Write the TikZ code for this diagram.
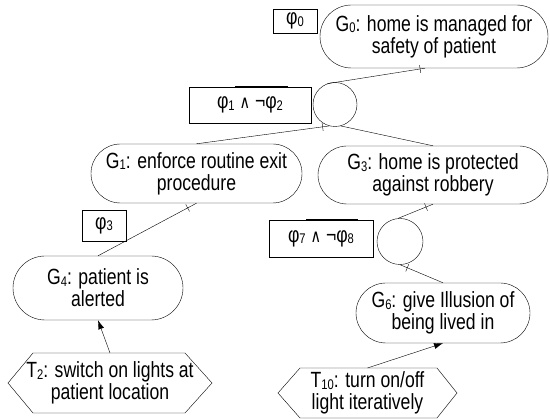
\documentclass[tikz,border=0pt]{standalone}
\usepackage{fontspec}
\setmainfont{Liberation Sans}[FakeStretch=0.8]
\newfontfamily\symfont{DejaVu Sans}[FakeStretch=0.8]
\usetikzlibrary{shapes.misc,arrows.meta,decorations.markings,calc}
\newcommand\sbs[1]{\raisebox{-1.5pt}{\fontsize{14}{14}\selectfont #1}}
\begin{document}
\begin{tikzpicture}[x=1pt,y=-1pt,
  every node/.style={font=\fontsize{22}{22}\selectfont, inner sep=0pt},
  goal/.style={draw, rounded rectangle, align=center},
  cond/.style={draw, rectangle},
  refnode/.style={draw, circle, minimum size=44pt},
  task/.style={align=center},
  tickat/.style={postaction={decorate, decoration={markings, mark=at position #1 with {\draw (0,-4pt) -- (0,4pt);}}}},
  arr/.style={-{Latex[length=9pt,width=6pt]}},
  bar/.style={line width=1.6pt}]
\path[fill=white] (0,0) rectangle (550,419);
% nodes
\node[goal, minimum width=228pt, minimum height=63pt] (G0) at (434,36.5) {G\sbs{0}: home is managed for\\safety of patient};
\node[cond, minimum width=44pt, minimum height=24pt] (p0) at (295,21) {φ\sbs{0}};
\node[refnode] (c1) at (335,104.5) {};
\node[cond, minimum width=122pt, minimum height=36pt] (p1) at (250,105) {φ\sbs{1} {\symfont\fontsize{18}{18}\selectfont ∧} ¬φ\sbs{2}};
\node[goal, minimum width=211pt, minimum height=59pt] (G1) at (196.5,173.5) {G\sbs{1}: enforce routine exit\\procedure};
\node[goal, minimum width=230pt, minimum height=58pt] (G3) at (433,175) {G\sbs{3}: home is protected\\against robbery};
\node[cond, minimum width=44pt, minimum height=31pt] (p3) at (104,225.5) {φ\sbs{3}};
\node[cond, minimum width=104pt, minimum height=37pt] (p7) at (321,238.5) {φ\sbs{7} {\symfont\fontsize{18}{18}\selectfont ∧} ¬φ\sbs{8}};
\node[refnode, minimum size=46pt] (c2) at (400,241.5) {};
\node[goal, minimum width=170pt, minimum height=64pt] (G4) at (98,288) {G\sbs{4}: patient is\\alerted};
\node[goal, minimum width=174pt, minimum height=60pt] (G6) at (443,313) {G\sbs{6}: give Illusion of\\being lived in};
\node[task] (T2) at (110,383) {T\sbs{2}: switch on lights at\\patient location};
\node[task] (T10) at (367.5,393) {T\sbs{10}: turn on/off\\light iteratively};
% hexagons
\draw ($(T2)+(-102,0)$) -- ($(T2)+(-77,-30)$) -- ($(T2)+(75,-30)$) -- ($(T2)+(102,0)$) -- ($(T2)+(75,30)$) -- ($(T2)+(-77,30)$) -- cycle;
\coordinate (T2top) at ($(T2)+(0,-30)$);
\draw ($(T10)+(-89.5,0)$) -- ($(T10)+(-67.5,-25)$) -- ($(T10)+(69.5,-25)$) -- ($(T10)+(89.5,0)$) -- ($(T10)+(69.5,25)$) -- ($(T10)+(-67.5,25)$) -- cycle;
\coordinate (T10top) at ($(T10)+(0,-25)$);
% bars on condition boxes
\draw[bar] ([xshift=-15pt]p1.north) -- ([xshift=38pt]p1.north);
\draw[bar] ([xshift=-15pt]p7.north) -- ([xshift=37pt]p7.north);
% connectors
\draw[tickat=0.05] ([xshift=-9pt]G0.south) -- (c1.110);
\draw[tickat=0.05] (c1.255) -- (G1.north);
\draw (c1.285) -- (G3.north);
\draw[tickat=0.09] (G1.south) -- (G4.north);
\draw[tickat=0.2] (G3.south) -- (c2.95);
\draw[tickat=0.17] (c2.south) -- (G6.north);
\draw[arr] (T2top) -- (G4.south);
\draw[arr] (T10top) -- (G6.south);
\end{tikzpicture}
\end{document}
